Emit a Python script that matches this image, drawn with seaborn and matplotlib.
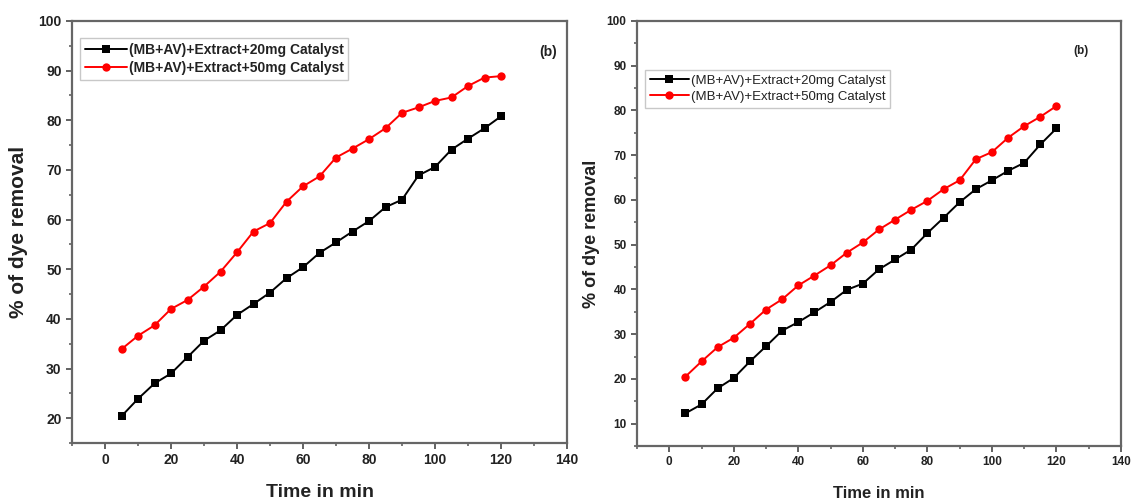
import matplotlib
matplotlib.use("Agg")
import matplotlib.pyplot as plt
from matplotlib.ticker import MultipleLocator
import seaborn as sns
import pandas as pd

# ---- data ----
time_min = [5, 10, 15, 20, 25, 30, 35, 40, 45, 50, 55, 60,
            65, 70, 75, 80, 85, 90, 95, 100, 105, 110, 115, 120]

left_20mg = [20.4, 23.9, 27.0, 29.0, 32.3, 35.6, 37.7, 40.8, 43.0, 45.3, 48.2, 50.4,
             53.3, 55.4, 57.6, 59.7, 62.5, 64.0, 68.9, 70.6, 74.1, 76.3, 78.4, 80.8]
left_50mg = [33.9, 36.6, 38.7, 42.0, 43.8, 46.5, 49.5, 53.4, 57.6, 59.3, 63.6, 66.7,
             68.7, 72.5, 74.3, 76.2, 78.4, 81.5, 82.6, 83.9, 84.6, 86.9, 88.6, 88.9]

right_20mg = [12.3, 14.3, 17.9, 20.2, 23.9, 27.3, 30.8, 32.7, 34.9, 37.2, 39.9, 41.3,
              44.5, 46.7, 48.9, 52.6, 56.0, 59.5, 62.4, 64.4, 66.5, 68.3, 72.4, 76.0]
right_50mg = [20.5, 23.9, 27.1, 29.2, 32.3, 35.5, 37.8, 40.9, 43.1, 45.4, 48.2, 50.5,
              53.4, 55.6, 57.8, 59.8, 62.4, 64.4, 69.1, 70.7, 73.9, 76.5, 78.6, 81.0]

series_names = ["(MB+AV)+Extract+20mg Catalyst", "(MB+AV)+Extract+50mg Catalyst"]
x_label = "Time in min"
y_label = "% of dye removal"
panel_tag = "(b)"
x_ticks = [0, 20, 40, 60, 80, 100, 120, 140]
left_y_ticks = [20, 30, 40, 50, 60, 70, 80, 90, 100]
right_y_ticks = [10, 20, 30, 40, 50, 60, 70, 80, 90, 100]

sns.set_style("ticks")
plt.rcParams["font.family"] = ["Liberation Sans", "DejaVu Sans"]

W, H = 1131, 504
fig = plt.figure(figsize=(W / 100, H / 100), dpi=100)

def px_axes(x0, y0, x1, y1):
    return fig.add_axes([x0 / W, 1 - y1 / H, (x1 - x0) / W, (y1 - y0) / H])

ax1 = px_axes(72, 21, 567, 443)
ax2 = px_axes(637, 21, 1121, 446)

colors = ["#000000", "#ff0000"]
markers = ["s", "o"]

def draw(ax, s20, s50, ylim, yticks, tick_fs, lab_fs_x, lab_fs_y, leg_fs, leg_bold, leg_anchor,
         handlelen, tag_xy, tag_fs):
    df = pd.DataFrame({
        "time": time_min * 2,
        "val": s20 + s50,
        "series": [series_names[0]] * len(time_min) + [series_names[1]] * len(time_min),
    })
    for i, name in enumerate(series_names):
        sub = df[df["series"] == name]
        sns.lineplot(data=sub, x="time", y="val", ax=ax, color=colors[i], marker=markers[i],
                     markersize=5.5 if i == 0 else 6, markeredgewidth=0, linewidth=1.4,
                     label=name)
    ax.set_xlim(-10, 140)
    ax.set_ylim(*ylim)
    ax.set_xticks(x_ticks)
    ax.set_yticks(yticks)
    ax.xaxis.set_minor_locator(MultipleLocator(10))
    ax.yaxis.set_minor_locator(MultipleLocator(5))
    ax.tick_params(which="major", direction="out", length=4, width=1.3, color="#555555",
                   labelsize=tick_fs, labelcolor="#222222")
    ax.tick_params(which="minor", direction="out", length=2.5, width=1.1, color="#555555")
    for lab in ax.get_xticklabels() + ax.get_yticklabels():
        lab.set_fontweight("bold")
    for sp in ax.spines.values():
        sp.set_visible(True)
        sp.set_color("#666666")
        sp.set_linewidth(1.6)
    ax.set_xlabel(x_label, fontsize=lab_fs_x, fontweight="bold", color="#222222")
    ax.set_ylabel(y_label, fontsize=lab_fs_y, fontweight="bold", color="#222222")
    leg = ax.legend(loc="upper left", bbox_to_anchor=leg_anchor, bbox_transform=fig.transFigure,
                    fontsize=leg_fs, frameon=True, fancybox=False, handlelength=handlelen,
                    handletextpad=0.15, borderpad=0.35, labelspacing=0.3, borderaxespad=0)
    leg.get_frame().set_edgecolor("#bbbbbb")
    leg.get_frame().set_linewidth(1.0)
    for t in leg.get_texts():
        t.set_fontweight("bold" if leg_bold else "normal")
        t.set_color("#222222")
    ax.text(tag_xy[0] / W, 1 - tag_xy[1] / H, panel_tag, transform=fig.transFigure,
            fontsize=tag_fs, fontweight="bold", ha="center", va="center", color="#222222")

draw(ax1, left_20mg, left_50mg, (15, 100), left_y_ticks, 10, 14, 15, 10, True,
     (80 / W, 1 - 38 / H), 3.0, (548, 52), 10)
draw(ax2, right_20mg, right_50mg, (5, 100), right_y_ticks, 8.5, 12, 13, 9.5, False,
     (645 / W, 1 - 70 / H), 3.0, (1081, 51), 8.5)

# label placement (y label: right edge; x label: top edge)
ax1.yaxis.set_label_coords((28 - 72) / (567 - 72), 0.5)
ax1.xaxis.set_label_coords(0.5, -(484 - 443) / (443 - 21))
ax2.yaxis.set_label_coords((600 - 637) / (1121 - 637), 0.5)
ax2.xaxis.set_label_coords(0.5, -(486 - 446) / (446 - 21))

fig.savefig("out.png", dpi=100)
